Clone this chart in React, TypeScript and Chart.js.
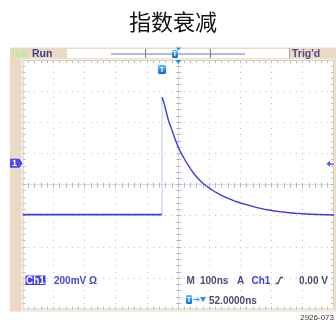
import React, { useEffect, useRef } from "react";
import { Chart, registerables } from "chart.js";

Chart.register(...registerables);

const TITLE = "指数衰减";
// time axis: 100 ns/div, 10 divisions ; channel 1: 200 mV/div, 8 divisions
const xMinNs = -500;
const xMaxNs = 500;
const yMinMv = -800;
const yMaxMv = 800;
// Channel 1 trace (ns, mV)
const timeNs = [-500, -52, -52, -45, -40, -30, -20, -10, 0, 10, 20, 30, 40, 50, 60, 70, 80, 90, 100, 120, 140, 160, 180, 200, 225, 250, 275, 300, 325, 350, 375, 400, 425, 450, 475, 500];
const ch1Mv = [-192, -192, 562, 520, 478, 402, 350, 292, 240, 200, 165, 130, 100, 72, 48, 27, 8, -8, -22, -48, -70, -88, -103, -117, -131, -145, -156, -165, -172, -178, -183, -186, -189, -191, -192, -194];
const triggerTimeNs = -52;
const ch1MarkerMv = 138;
const trigLevelMarkerMv = 134;

const statusLeft = ["Tek", "Run"];
const statusRight = "Trig'd";
const readoutCh = ["Ch1", "200mV Ω"];
const readoutTime = ["M", "100ns", "A", "Ch1", "0.00 V"];
const readoutPos = "52.0000ns";
const footer = "2926-073";

const TAN = "#e9d9c5";
const TRACE = "#3a3ae6";
const FONT = "'Liberation Sans', Arial, sans-serif";

function blueIcon(ctx: CanvasRenderingContext2D, x: number, y: number, w: number, h: number, label: string, c1: string, c2: string) {
  ctx.save();
  const g = ctx.createLinearGradient(x, y, x, y + h);
  g.addColorStop(0, c1);
  g.addColorStop(1, c2);
  ctx.fillStyle = g;
  ctx.beginPath();
  const r = 1.5;
  ctx.moveTo(x + r, y);
  ctx.lineTo(x + w - r, y);
  ctx.quadraticCurveTo(x + w, y, x + w, y + r);
  ctx.lineTo(x + w, y + h - r);
  ctx.quadraticCurveTo(x + w, y + h, x + w - r, y + h);
  ctx.lineTo(x + r, y + h);
  ctx.quadraticCurveTo(x, y + h, x, y + h - r);
  ctx.lineTo(x, y + r);
  ctx.quadraticCurveTo(x, y, x + r, y);
  ctx.fill();
  ctx.fillStyle = "#ffffff";
  ctx.font = `bold ${Math.round(h - 1)}px ${FONT}`;
  ctx.textAlign = "center";
  ctx.textBaseline = "middle";
  ctx.fillText(label, x + w / 2, y + h / 2 + 0.5);
  ctx.restore();
}

function downTri(ctx: CanvasRenderingContext2D, x: number, y: number, w: number, h: number, color: string) {
  ctx.fillStyle = color;
  ctx.beginPath();
  ctx.moveTo(x - w / 2, y);
  ctx.lineTo(x + w / 2, y);
  ctx.lineTo(x, y + h);
  ctx.closePath();
  ctx.fill();
}

const scopePlugin = {
  id: "scope",
  beforeDraw(chart: any) {
    const ctx: CanvasRenderingContext2D = chart.ctx;
    const { left, right, top, bottom } = chart.chartArea;
    ctx.save();
    // tan frame
    ctx.fillStyle = TAN;
    ctx.fillRect(10, 47.5, 326, 264);
    ctx.fillStyle = "#f4f0dc";
    ctx.fillRect(21, 58.5, 313.5, 252.5);
    ctx.fillStyle = "#ffffff";
    ctx.fillRect(left, top, right - left, bottom - top);
    // status bar white box
    ctx.fillStyle = "#ffffff";
    ctx.fillRect(67, 49, 222, 9);
    ctx.strokeStyle = "#a9a0a0";
    ctx.lineWidth = 1;
    ctx.beginPath();
    ctx.moveTo(289.5, 48);
    ctx.lineTo(289.5, 58.5);
    ctx.stroke();
    // record view bar
    ctx.fillStyle = "#b6b6f2";
    ctx.fillRect(111, 53, 134, 2);
    ctx.strokeStyle = "#7c7c7c";
    ctx.beginPath();
    ctx.moveTo(146.5, 49.5); ctx.lineTo(145.5, 49.5); ctx.lineTo(145.5, 57.5); ctx.lineTo(146.5, 57.5);
    ctx.moveTo(209.5, 49.5); ctx.lineTo(210.5, 49.5); ctx.lineTo(210.5, 57.5); ctx.lineTo(209.5, 57.5);
    ctx.stroke();
    blueIcon(ctx, 172, 50, 6, 8, "T", "#5ab4ff", "#0a6ad8");
    downTri(ctx, 178.5, 47.5, 5, 3, "#1a8cff");
    // status text
    ctx.textAlign = "left";
    ctx.textBaseline = "alphabetic";
    ctx.font = `bold 10.5px ${FONT}`;
    ctx.fillStyle = "#b2f09a";
    ctx.fillText(statusLeft[0], 10, 57);
    ctx.fillStyle = "#3e3e8a";
    ctx.fillText(statusLeft[1], 32, 57);
    ctx.fillStyle = "#4e4e90";
    ctx.fillText(statusRight, 292, 57);

    // graticule
    const dx = (right - left) / 10;
    const dy = (bottom - top) / 8;
    const cx = left + 5 * dx;
    const cy = top + 4 * dy;
    ctx.fillStyle = "#c2c2c2";
    for (let i = 1; i < 10; i++) {
      if (i === 5) continue;
      const x = Math.floor(left + i * dx);
      for (let j = 1; j < 40; j++) ctx.fillRect(x, Math.floor(top + (j * dy) / 5), 1, 1);
    }
    for (let i = 1; i < 8; i++) {
      if (i === 4) continue;
      const y = Math.floor(top + i * dy);
      for (let j = 1; j < 50; j++) ctx.fillRect(Math.floor(left + (j * dx) / 5), y, 1, 1);
    }
    // center lines
    ctx.strokeStyle = "#dcdce6";
    ctx.lineWidth = 1;
    ctx.beginPath();
    ctx.moveTo(left, Math.floor(cy) + 0.5);
    ctx.lineTo(right, Math.floor(cy) + 0.5);
    ctx.moveTo(Math.floor(cx) + 0.5, top);
    ctx.lineTo(Math.floor(cx) + 0.5, bottom);
    ctx.stroke();
    ctx.strokeStyle = "#b4b4c8";
    ctx.beginPath();
    for (let j = 1; j < 50; j++) {
      const x = Math.floor(left + (j * dx) / 5) + 0.5;
      ctx.moveTo(x, cy - 2); ctx.lineTo(x, cy + 3);
      ctx.moveTo(x, top); ctx.lineTo(x, top + 3);
      ctx.moveTo(x, bottom); ctx.lineTo(x, bottom - 3);
    }
    for (let j = 1; j < 40; j++) {
      const y = Math.floor(top + (j * dy) / 5) + 0.5;
      ctx.moveTo(cx - 2, y); ctx.lineTo(cx + 3, y);
      ctx.moveTo(left, y); ctx.lineTo(left + 3, y);
      ctx.moveTo(right, y); ctx.lineTo(right - 3, y);
    }
    ctx.stroke();
    ctx.strokeStyle = "#d4d0c0";
    ctx.strokeRect(left + 0.5, top + 0.5, right - left - 1, bottom - top - 1);
    ctx.restore();
  },
  afterDatasetsDraw(chart: any) {
    const ctx: CanvasRenderingContext2D = chart.ctx;
    const xs = chart.scales.x;
    const ys = chart.scales.y;
    const { left, right, top } = chart.chartArea;
    ctx.save();
    // expansion point & trigger position markers
    downTri(ctx, xs.getPixelForValue(0), top, 6, 4, "#1a8cff");
    blueIcon(ctx, xs.getPixelForValue(triggerTimeNs) - 4, 65, 8, 9, "T", "#5ab4ff", "#0a6ad8");
    // channel 1 marker
    const my = ys.getPixelForValue(ch1MarkerMv);
    ctx.fillStyle = "#4848ee";
    ctx.beginPath();
    ctx.moveTo(10, my - 4.5);
    ctx.lineTo(19.5, my - 4.5);
    ctx.lineTo(left, my);
    ctx.lineTo(19.5, my + 4.5);
    ctx.lineTo(10, my + 4.5);
    ctx.closePath();
    ctx.fill();
    ctx.fillStyle = "#ffffff";
    ctx.font = `bold 9px ${FONT}`;
    ctx.textAlign = "center";
    ctx.textBaseline = "middle";
    ctx.fillText("1", 14.5, my + 0.5);
    // trigger level marker
    const ty = ys.getPixelForValue(trigLevelMarkerMv);
    ctx.fillStyle = "#5050f0";
    ctx.beginPath();
    ctx.moveTo(right - 7.5, ty);
    ctx.lineTo(right - 4, ty - 3);
    ctx.lineTo(right - 4, ty + 3);
    ctx.closePath();
    ctx.fill();
    ctx.fillRect(right - 5, ty - 0.5, 4.5, 1.5);

    // readouts
    ctx.textAlign = "left";
    ctx.textBaseline = "alphabetic";
    ctx.font = `bold 10px ${FONT}`;
    ctx.fillStyle = "#3c3cf0";
    ctx.fillRect(25.5, 275.5, 20, 9.5);
    ctx.fillStyle = "#ffffff";
    ctx.fillText(readoutCh[0], 26, 284);
    ctx.fillStyle = "#4646d4";
    ctx.fillText(readoutCh[1], 54, 284);
    const dark = "#4a4a72";
    ctx.fillStyle = dark;
    ctx.fillText(readoutTime[0], 186.5, 284);
    ctx.fillText(readoutTime[1], 200, 284);
    ctx.fillText(readoutTime[2], 237, 284);
    ctx.fillStyle = "#3c3cf0";
    ctx.fillText(readoutTime[3], 251.5, 284);
    ctx.fillStyle = dark;
    ctx.fillText(readoutTime[4], 299, 284);
    ctx.strokeStyle = dark;
    ctx.lineWidth = 1.3;
    ctx.beginPath();
    ctx.moveTo(275.5, 283.5);
    ctx.lineTo(278, 283.5);
    ctx.lineTo(280.5, 277.5);
    ctx.lineTo(283, 277.5);
    ctx.stroke();
    blueIcon(ctx, 186, 295, 6, 9, "T", "#5ab4ff", "#0a6ad8");
    ctx.strokeStyle = "#2a8cff";
    ctx.lineWidth = 1;
    ctx.beginPath();
    ctx.moveTo(193, 299.5); ctx.lineTo(199, 299.5);
    ctx.moveTo(197, 297.5); ctx.lineTo(199, 299.5); ctx.lineTo(197, 301.5);
    ctx.stroke();
    downTri(ctx, 203, 297, 6, 5, "#1a8cff");
    ctx.font = `bold 10px ${FONT}`;
    ctx.textAlign = "left";
    ctx.textBaseline = "alphabetic";
    ctx.fillStyle = dark;
    ctx.fillText(readoutPos, 209, 303.5);

    // footer id
    ctx.font = `8px ${FONT}`;
    ctx.fillStyle = "#333333";
    ctx.textAlign = "right";
    ctx.fillText(footer, 334, 319.5);
    ctx.restore();
  },
};

export default function App() {
  const ref = useRef<HTMLCanvasElement | null>(null);
  useEffect(() => {
    if (!ref.current) return;
    const data = timeNs.map((t, i) => ({ x: t, y: ch1Mv[i] }));
    const chart = new Chart(ref.current, {
      type: "line",
      data: {
        datasets: [
          {
            label: "Ch1",
            data,
            borderColor: TRACE,
            borderWidth: 1.4,
            pointRadius: 0,
            tension: 0,
            fill: false,
            segment: {
              borderColor: (c: any) => (c.p0.parsed.x === c.p1.parsed.x ? "#c4c4f4" : TRACE),
              borderWidth: (c: any) => (c.p0.parsed.x === c.p1.parsed.x ? 1 : c.p0.parsed.x < -100 ? 1.8 : 1.4),
            },
          } as any,
        ],
      },
      options: {
        responsive: false,
        animation: false,
        devicePixelRatio: 1,
        layout: { padding: { left: 10, right: 0, top: 0, bottom: 15.5 } },
        plugins: {
          legend: { display: false },
          tooltip: { enabled: false },
          title: {
            display: true,
            text: TITLE,
            color: "#111111",
            font: { family: "'Noto Sans CJK SC'", size: 22, weight: "normal", lineHeight: 1.2 },
            padding: { top: 8.8, bottom: 24.8 },
          },
        },
        scales: {
          x: { type: "linear", min: xMinNs, max: xMaxNs, display: false },
          y: {
            type: "linear",
            min: yMinMv,
            max: yMaxMv,
            position: "left",
            ticks: { display: false },
            grid: { display: false },
            border: { display: false },
            afterFit: (s: any) => { s.width = 12.5; },
          },
          yRight: {
            type: "linear",
            min: yMinMv,
            max: yMaxMv,
            position: "right",
            ticks: { display: false },
            grid: { display: false },
            border: { display: false },
            afterFit: (s: any) => { s.width = 2; },
          },
        },
      } as any,
      plugins: [scopePlugin],
    });
    return () => chart.destroy();
  }, []);
  return (
    <div style={{ position: "absolute", left: 0, top: 0, width: 336, height: 325 }}>
      <canvas ref={ref} width={336} height={325} style={{ display: "block", width: 336, height: 325 }} />
    </div>
  );
}
